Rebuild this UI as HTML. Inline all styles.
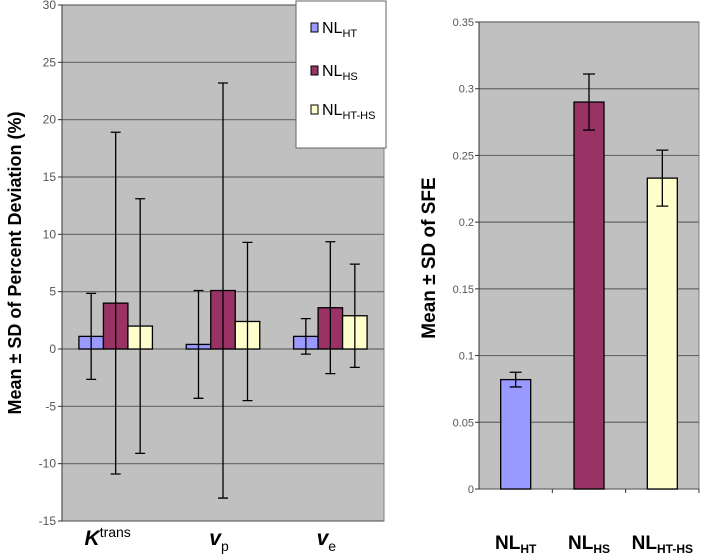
<!DOCTYPE html>
<html><head><meta charset="utf-8"><style>
body{margin:0;background:#fff;width:708px;height:557px;overflow:hidden;font-family:"Liberation Sans",sans-serif}
svg{display:block}
</style></head><body>
<svg id="c" width="708" height="557"></svg>
<script>
const leftCats=["Ktrans","vp","ve"];
const seriesNames=["NL_HT","NL_HS","NL_HT-HS"];
const leftMeans=[[1.1,0.4,1.1],[4.0,5.1,3.6],[2.0,2.4,2.9]];
const leftSD=[[3.75,4.7,1.55],[14.9,18.1,5.75],[11.1,6.9,4.5]];
const leftTicks=[30,25,20,15,10,5,0,-5,-10,-15];
const rightCats=["NL_HT","NL_HS","NL_HT-HS"];
const rightMeans=[0.082,0.290,0.233];
const rightSD=[0.0055,0.021,0.021];
const rightTicks=[0.35,0.3,0.25,0.2,0.15,0.1,0.05,0];
const colors=["#9999ff","#993366","#ffffcc"];

const svg=document.getElementById('c');
const NS="http://www.w3.org/2000/svg";
function mk(t,a,p){const e=document.createElementNS(NS,t);for(const k in a)e.setAttribute(k,a[k]);(p||svg).appendChild(e);return e;}

// LEFT
const L={x0:62,x1:384,yTop:5,yBot:521,min:-15,max:30};
const ly=v=>L.yBot-(v-L.min)/(L.max-L.min)*(L.yBot-L.yTop);
let r=mk('rect',{x:L.x0,y:L.yTop,width:L.x1-L.x0,height:L.yBot-L.yTop,fill:'#c0c0c0',stroke:'#808080'});


leftTicks.forEach(t=>{
  const y=ly(t);
  const g=mk('line',{x1:L.x0,x2:L.x1,y1:y,y2:y,stroke:'#666','stroke-width':1.2});
  
  
  mk('line',{x1:L.x0-4,x2:L.x0,y1:y,y2:y,stroke:'#333'});
  const tx=mk('text',{x:L.x0-6,y:y+4,'text-anchor':'end','font-size':12,fill:'#555'});
  tx.textContent=t;
  
  
});
mk('line',{x1:L.x0,x2:L.x0,y1:L.yTop,y2:L.yBot,stroke:'#333'});
const lcw=(L.x1-L.x0)/leftCats.length, lbw=24.5;
leftCats.forEach((c,i)=>{
  const cx=L.x0+lcw*(i+0.5);
  for(let s=0;s<3;s++){
    const x=cx+(s-1.5)*lbw, m=leftMeans[s][i], sd=leftSD[s][i];
    const b=mk('rect',{x:x,y:Math.min(ly(m),ly(0)),width:lbw,height:Math.abs(ly(0)-ly(m)),fill:colors[s],stroke:'#000','stroke-width':1.3});
    
    
    const ex=x+lbw/2;
    const e=mk('path',{d:`M${ex},${ly(m+sd)}V${ly(m-sd)}M${ex-5},${ly(m+sd)}H${ex+5}M${ex-5},${ly(m-sd)}H${ex+5}`,stroke:'#000','stroke-width':1.3,fill:'none'});
    
    
  }
});
[["K","trans",""],["v","","p"],["v","","e"]].forEach((p,i)=>{
  const cx=L.x0+lcw*(i+0.5)-(i==0?8:4);
  const t=mk('text',{x:cx,y:545,'text-anchor':'middle','font-size':21,'font-weight':'bold','font-style':'italic',fill:'#000'});
  
  
  t.appendChild(document.createTextNode(p[0]));
  if(p[1]){const s=mk('tspan',{dy:-8,'font-size':14,'font-style':'normal','font-weight':'normal'},t);s.textContent=p[1];}
  if(p[2]){const s=mk('tspan',{dy:6,'font-size':14,'font-style':'normal','font-weight':'normal'},t);s.textContent=p[2];}
});
const lg=mk('g',{});


mk('rect',{x:296,y:1,width:90,height:147,fill:'#fff',stroke:'#666'},lg);
[["HT",30],["HS",73],["HT-HS",112]].forEach((p,s)=>{
  mk('rect',{x:311,y:p[1]-7,width:7,height:9,fill:colors[s],stroke:'#000'},lg);
  const t=mk('text',{x:322,y:p[1]+3,'font-size':16,fill:'#000'},lg);
  
  
  t.appendChild(document.createTextNode('NL'));
  const sp=mk('tspan',{dy:4,'font-size':11},t);sp.textContent=p[0];
});
let yt=mk('text',{transform:'translate(21,263) rotate(-90)','text-anchor':'middle','font-size':18,'font-weight':'bold',fill:'#000'});
yt.textContent='Mean \u00B1 SD of Percent Deviation (%)';



// RIGHT
const R={x0:479,x1:699,yTop:22,yBot:489,min:0,max:0.35};
const ry=v=>R.yBot-(v-R.min)/(R.max-R.min)*(R.yBot-R.yTop);
r=mk('rect',{x:R.x0,y:R.yTop,width:R.x1-R.x0,height:R.yBot-R.yTop,fill:'#c0c0c0',stroke:'#808080'});


rightTicks.forEach(t=>{
  const y=ry(t);
  const g=mk('line',{x1:R.x0,x2:R.x1,y1:y,y2:y,stroke:'#666','stroke-width':1.2});
  
  
  mk('line',{x1:R.x0-4,x2:R.x0,y1:y,y2:y,stroke:'#333'});
  const tx=mk('text',{x:R.x0-5,y:y+4,'text-anchor':'end','font-size':11,fill:'#555'});
  tx.textContent=t;
  
  
});
mk('line',{x1:R.x0,x2:R.x0,y1:R.yTop,y2:R.yBot,stroke:'#333'});
const rcw=(R.x1-R.x0)/rightCats.length, rbw=30;
rightCats.forEach((c,i)=>{
  const cx=R.x0+rcw*(i+0.5), m=rightMeans[i], sd=rightSD[i];
  mk('line',{x1:R.x0+rcw*(i+1),x2:R.x0+rcw*(i+1),y1:R.yBot,y2:R.yBot+4,stroke:'#333'});
  const b=mk('rect',{x:cx-rbw/2,y:ry(m),width:rbw,height:ry(0)-ry(m),fill:colors[i],stroke:'#000','stroke-width':1.3});
  
  
  const e=mk('path',{d:`M${cx},${ry(m+sd)}V${ry(m-sd)}M${cx-6},${ry(m+sd)}H${cx+6}M${cx-6},${ry(m-sd)}H${cx+6}`,stroke:'#000','stroke-width':1.3,fill:'none'});
  
  
  const t=mk('text',{x:cx,y:549,'text-anchor':'middle','font-size':19,'font-weight':'bold',fill:'#000'});
  
  
  t.appendChild(document.createTextNode('NL'));
  const sp=mk('tspan',{dy:4,'font-size':12},t);sp.textContent=c.split('_')[1];
});
yt=mk('text',{transform:'translate(435,258) rotate(-90)','text-anchor':'middle','font-size':19,'font-weight':'bold',fill:'#000'});
yt.textContent='Mean \u00B1 SD of SFE';


</script>
</body></html>
